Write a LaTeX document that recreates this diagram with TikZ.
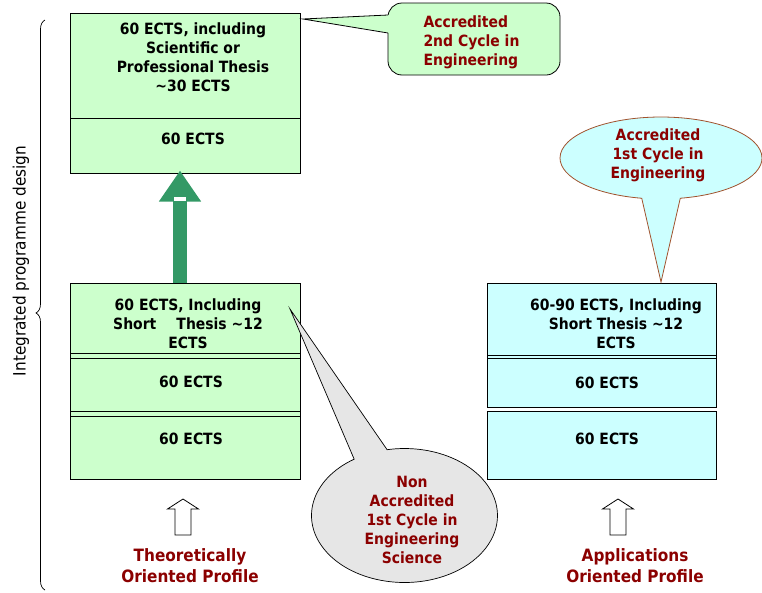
\documentclass[tikz,border=0pt]{standalone}
\usepackage{fontspec}
\setmainfont{DejaVu Sans}[FakeStretch=0.9]
\usetikzlibrary{shapes.callouts,arrows.meta,decorations.pathreplacing}
\definecolor{cellgreen}{HTML}{CCFFCC}
\definecolor{cellcyan}{HTML}{CCFFFF}
\definecolor{bubblegrey}{HTML}{E6E6E6}
\definecolor{profilered}{HTML}{8B0000}
\definecolor{liftgreen}{HTML}{339966}
\definecolor{bubbleedge}{HTML}{A0522D}
\begin{document}
\begin{tikzpicture}
    [x=1pt,y=-1pt,
     cell/.style={draw=black,line width=1pt,inner sep=0pt,minimum width=230pt},
     ects/.style={font=\fontsize{15.5}{19}\bfseries\selectfont,align=center,text=black},
     say/.style={font=\fontsize{15.5}{19}\bfseries\selectfont,align=center,text=profilered},
     openarrow/.style={draw=black,fill=white,line width=0.8pt}]
    \useasboundingbox (0,0) rectangle (762,592);
    % second cycle, left column
    \node [cell,fill=cellgreen,minimum height=105pt] (L0a) at (185,65.5) {};
    \node [cell,fill=cellgreen,minimum height=55pt] (L0b) at (185,145.5) {};
    \node [ects] (t0a) at (193,57.5)
      {60 ECTS, including\\Scientific or\\Professional Thesis\\\textasciitilde30 ECTS};
    \node [ects] (t0b) at (193,139) {60 ECTS};
    % first cycle, left column
    \node [cell,fill=cellgreen,minimum height=196pt] (LF) at (185,381) {};
    \node [cell,minimum height=70pt] (L1) at (185,318) {};
    \node [cell,minimum height=53pt] (L2) at (185,384.5) {};
    \node [cell,minimum height=63pt] (L3) at (185,447.5) {};
    \node [ects] (t1) at (188,324)
      {60 ECTS, Including\\Short\hspace{1.3em}Thesis \textasciitilde12\\ECTS};
    \node [ects] (t2) at (191,382) {60 ECTS};
    \node [ects] (t3) at (191,439) {60 ECTS};
    % first cycle, right column
    \node [cell,fill=cellcyan,minimum width=229pt,minimum height=124pt] (RF) at (601.5,345) {};
    \node [cell,minimum width=229pt,minimum height=72pt] (R1) at (601.5,319) {};
    \node [cell,minimum width=229pt,minimum height=49pt] (R2) at (601.5,382.5) {};
    \node [cell,fill=cellcyan,minimum width=229pt,minimum height=68pt] (R3) at (601.5,445) {};
    \node [ects] (r1) at (616,324)
      {60-90 ECTS, Including\\Short Thesis \textasciitilde12\\ECTS};
    \node [ects] (r2) at (607,383) {60 ECTS};
    \node [ects] (r3) at (607,439) {60 ECTS};
    % lift from first to second cycle
    \draw [liftgreen,line width=14pt,-{Triangle[length=31pt,width=40pt]}]
      ([xshift=-5pt]L1.north) -- ([xshift=-5pt,yshift=3pt]L0b.south);
    \fill [white] (174,197) rectangle (186,201);
    % callouts
    \coordinate (tipG) at (303,19);
    \coordinate (tipC) at (661,282);
    \coordinate (tipN) at (290,309);
    \node [draw=black,line width=0.8pt,fill=cellgreen,rounded corners=14pt,
      minimum width=172pt,minimum height=72pt,inner sep=0pt] (G2) at (474,39) {};
    \fill [cellgreen] (tipG) -- (389,15) -- (389,33) -- cycle;
    \draw [line width=0.8pt] (388,15) -- (tipG) -- (388,33);
    \node [say,align=left,anchor=west] (g2txt) at (420,42)
      {Accredited\\2nd Cycle in\\Engineering};
    \node [ellipse callout,draw=bubbleedge,line width=0.8pt,fill=cellcyan,
      minimum width=202pt,minimum height=82pt,inner sep=0pt,
      callout absolute pointer={(tipC)},callout pointer arc=22] (C1) at (661,158) {};
    \node [say] (c1txt) at (658,155) {Accredited\\1st Cycle in\\Engineering};
    \node [ellipse callout,draw=black,line width=0.7pt,fill=bubblegrey,
      minimum width=186pt,minimum height=134pt,inner sep=0pt,
      callout absolute pointer={(tipN)},callout pointer arc=22] (N1) at (404.5,515.5) {};
    \node [say] (n1txt) at (412,520)
      {Non\\Accredited\\1st Cycle in\\Engineering\\Science};
    % profiles
    \foreach \ax in {183,618}
      \draw [openarrow] (\ax,499) -- (\ax+15.5,509) -- (\ax+8,509) -- (\ax+8,535)
        -- (\ax-8,535) -- (\ax-8,509) -- (\ax-15.5,509) -- cycle;
    \node [say,font=\fontsize{17}{21}\bfseries\selectfont] (pT) at (190,566)
      {Theoretically\\Oriented Profile};
    \node [say,font=\fontsize{17}{21}\bfseries\selectfont] (pA) at (635,566)
      {Applications\\Oriented Profile};
    % programme brace
    \draw [line width=0.7pt,decorate,decoration={brace,amplitude=9pt,aspect=0.486}]
      (45,590) -- (45,20);
    \node [rotate=90,font=\fontsize{17}{20}\selectfont] (ipd) at (21,261)
      {Integrated programme design};
\end{tikzpicture}
\end{document}
